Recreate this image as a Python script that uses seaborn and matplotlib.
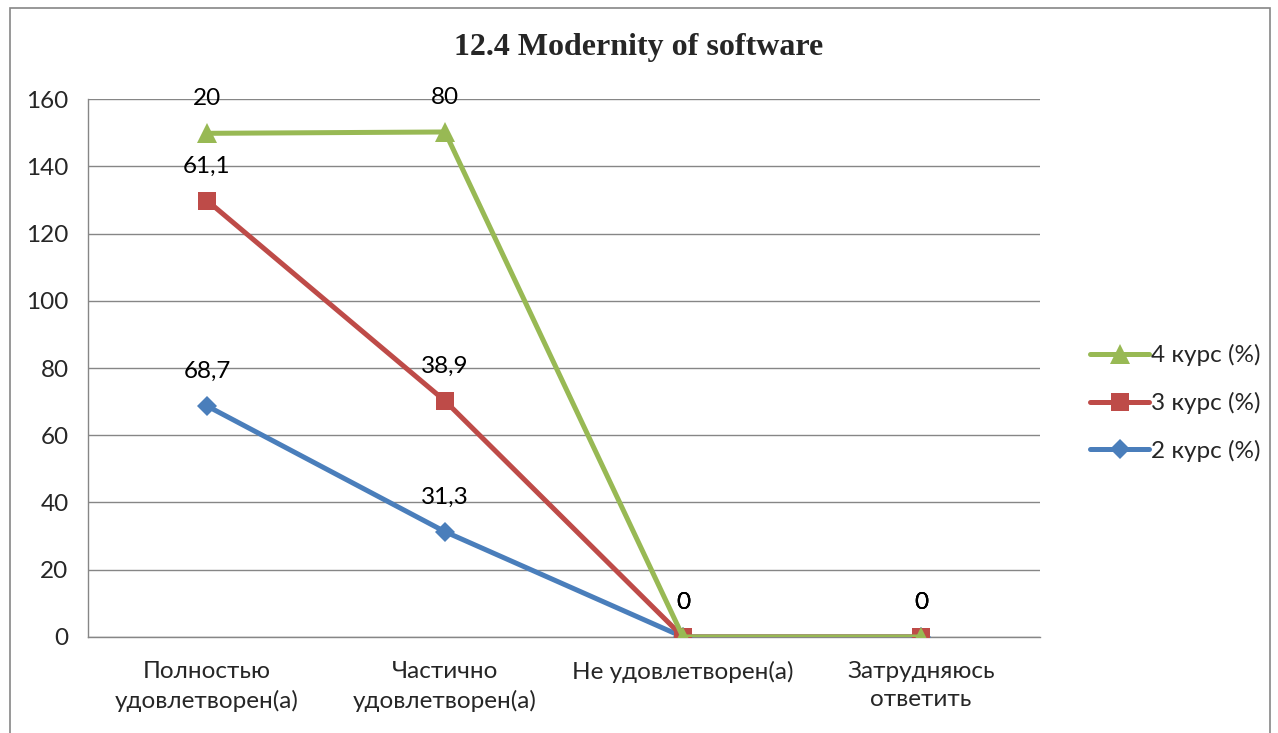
import numpy as np
import matplotlib
matplotlib.use('Agg')
import matplotlib.pyplot as plt
import seaborn as sns

# Data (stacked line chart, labels show own values)
categories = ['Полностью\nудовлетворен(а)', 'Частично\nудовлетворен(а)',
              'Не удовлетворен(а)', 'Затрудняюсь\nответить']
course2 = [68.7, 31.3, 0, 0]
course3 = [61.1, 38.9, 0, 0]
course4 = [20, 80, 0, 0]
series_names = ['2 курс (%)', '3 курс (%)', '4 курс (%)']
title = '12.4 Modernity of software'


def fmt(v):
    return ('%g' % v).replace('.', ',')


def main():
    sns.set_style('white')
    plt.rcParams['font.family'] = ['Lato', 'DejaVu Sans']
    fs = 17.5

    fig = plt.figure(figsize=(12.78, 7.33), dpi=100)
    ax = fig.add_axes([0.0689, 0.131, 0.7449, 0.7339])

    # Outer chart border
    fig.patches.append(plt.Rectangle((0.008, -0.01), 0.986, 0.999, transform=fig.transFigure,
                                     fill=False, edgecolor='#868686', linewidth=1.2))

    x = np.arange(len(categories))
    values = [course2, course3, course4]
    stacked = np.cumsum(np.array(values, dtype=float), axis=0)
    colors = ['#4A7EBB', '#BE4B48', '#98B954']
    markers = ['D', 's', '^']
    msizes = [10.5, 13.5, 14.5]

    for vals, top, name, c, m, ms in zip(values, stacked, series_names, colors, markers, msizes):
        sns.lineplot(x=x, y=top, ax=ax, color=c, linewidth=3.6, marker=m,
                     markersize=ms, markeredgewidth=0, label=name, zorder=3)
        for xi, yi, v in zip(x, top, vals):
            ax.annotate(fmt(v), (xi, yi), xytext=(0, 25), textcoords='offset points',
                        ha='center', va='center', fontsize=fs, color='black')

    ax.set_xlim(-0.5, 3.5)
    ax.set_ylim(0, 160)
    ax.set_yticks(np.arange(0, 161, 20))
    ax.set_xticks(x)
    ax.set_xticklabels(categories, fontsize=fs, linespacing=1.45)
    ax.set_xticks(np.arange(-0.5, 3.6, 1), minor=True)
    ax.tick_params(axis='x', which='major', length=0, pad=17)
    ax.tick_params(axis='x', which='minor', length=6, color='#868686', width=1)
    ax.tick_params(axis='y', length=6, color='#868686', width=1, labelsize=fs, pad=8)
    ax.yaxis.grid(True, color='#868686', linewidth=1)
    ax.set_axisbelow(True)
    for s in ['top', 'right']:
        ax.spines[s].set_visible(False)
    for s in ['left', 'bottom']:
        ax.spines[s].set_color('#868686')
        ax.spines[s].set_linewidth(1)

    fig.text(0.5, 0.935, title, ha='center', va='center', fontsize=23,
             fontweight='bold', family='Liberation Serif')

    h, l = ax.get_legend_handles_labels()
    ax.legend(h[::-1], l[::-1], loc='center left', bbox_to_anchor=(1.03, 0.435),
              frameon=False, fontsize=fs, handlelength=2.4, handletextpad=0.1,
              labelspacing=1.05)

    fig.savefig('out.png', dpi=100)


if __name__ == '__main__':
    main()
